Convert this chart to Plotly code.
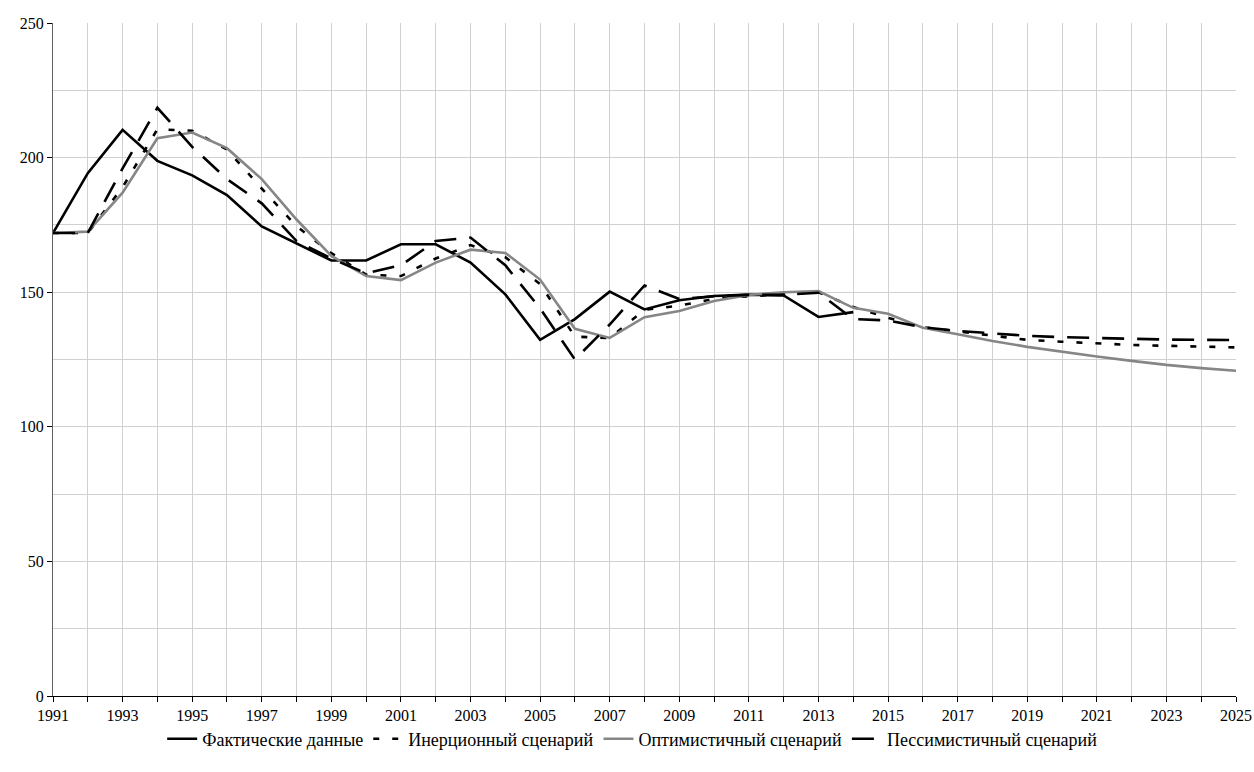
import plotly.graph_objects as go

years = list(range(1991, 2026))

fact_years = list(range(1991, 2015))
fact = [172, 194.2, 210.3, 198.8, 193.4, 186.1, 174.4, 168.0, 161.8, 161.8,
        167.8, 167.8, 161.0, 149.2, 132.3, 140.0, 150.2, 143.6, 147.0, 148.6,
        149.1, 148.8, 140.8, 142.6]

inertial = [172, 172, 189.0, 210.5, 210.0, 203.0, 188.5, 174.5, 164.5, 156.5,
            156.0, 162.5, 167.5, 163.0, 153.0, 133.5, 133.0, 143.5, 145.0, 147.5,
            148.5, 149.3, 150.0, 144.5, 140.5, 137.0, 135.4, 133.8, 132.3, 131.6,
            130.9, 130.4, 130.1, 129.7, 129.5]

optimistic = [172, 172.5, 187.0, 207.2, 209.3, 203.5, 192.0, 177.0, 163.5, 156.0,
              154.5, 161.0, 165.8, 164.6, 154.7, 136.4, 133.0, 140.7, 143.0, 146.7,
              149.0, 150.0, 150.4, 144.2, 142.0, 136.8, 134.4, 131.9, 129.7, 127.8,
              126.1, 124.5, 123.0, 121.8, 120.8]

pessimistic = [172, 172, 196.0, 218.5, 204.0, 192.0, 183.0, 169.0, 162.5, 157.0,
               160.0, 169.0, 170.3, 160.0, 144.0, 125.0, 138.0, 152.5, 147.5, 148.5,
               149.0, 149.0, 149.8, 140.0, 139.5, 137.0, 135.6, 134.7, 133.8, 133.3,
               132.9, 132.7, 132.4, 132.3, 132.2]

names = ["Фактические данные", "Инерционный сценарий",
         "Оптимистичный сценарий", "Пессимистичный сценарий"]

FONT = "Liberation Serif"

fig = go.Figure()
fig.add_trace(go.Scatter(x=fact_years, y=fact, mode="lines", name=names[0],
                         line=dict(color="black", width=2.6)))
fig.add_trace(go.Scatter(x=years, y=inertial, mode="lines", name=names[1],
                         line=dict(color="black", width=2.6, dash="6px,13px")))
fig.add_trace(go.Scatter(x=years, y=optimistic, mode="lines", name=names[2],
                         line=dict(color="#868686", width=2.6)))
fig.add_trace(go.Scatter(x=years, y=pessimistic, mode="lines", name=names[3],
                         line=dict(color="black", width=2.6, dash="22px,13px")))

tickvals = years
ticktext = [str(y) if (y - 1991) % 2 == 0 else "" for y in years]

fig.update_layout(
    width=1254, height=772,
    margin=dict(l=53, r=18, t=23, b=76),
    paper_bgcolor="white", plot_bgcolor="white",
    font=dict(family=FONT, size=16, color="black"),
    showlegend=True,
    legend=dict(orientation="h", x=0.49, xanchor="center", y=-0.064, yanchor="middle",
                bgcolor="rgba(0,0,0,0)",
                font=dict(family=FONT, size=18, color="black"),
                itemwidth=30, tracegroupgap=0),
    xaxis=dict(range=[1991, 2025], tickmode="array", tickvals=tickvals, ticktext=ticktext,
               showgrid=True, gridcolor="#d0d0d0", gridwidth=1,
               showline=True, linecolor="black", linewidth=1,
               ticks="outside", ticklen=5, tickcolor="black",
               tickfont=dict(family=FONT, size=16, color="black"),
               ticklabeloverflow="allow",
               zeroline=False, fixedrange=True, automargin=False),
    yaxis=dict(range=[0, 250], tick0=0, dtick=50,
               showgrid=True, gridcolor="#d0d0d0", gridwidth=1,
               minor=dict(dtick=25, showgrid=True, gridcolor="#d0d0d0", gridwidth=1, ticks=""),
               showline=True, linecolor="#606060", linewidth=1,
               ticks="outside", ticklen=5, tickcolor="black",
               tickfont=dict(family=FONT, size=16, color="black"),
               zeroline=False, fixedrange=True, automargin=False),
)

fig.write_html("out.html", config={"displayModeBar": False},
               post_script="document.body.style.margin='0';document.body.style.overflow='hidden';")
